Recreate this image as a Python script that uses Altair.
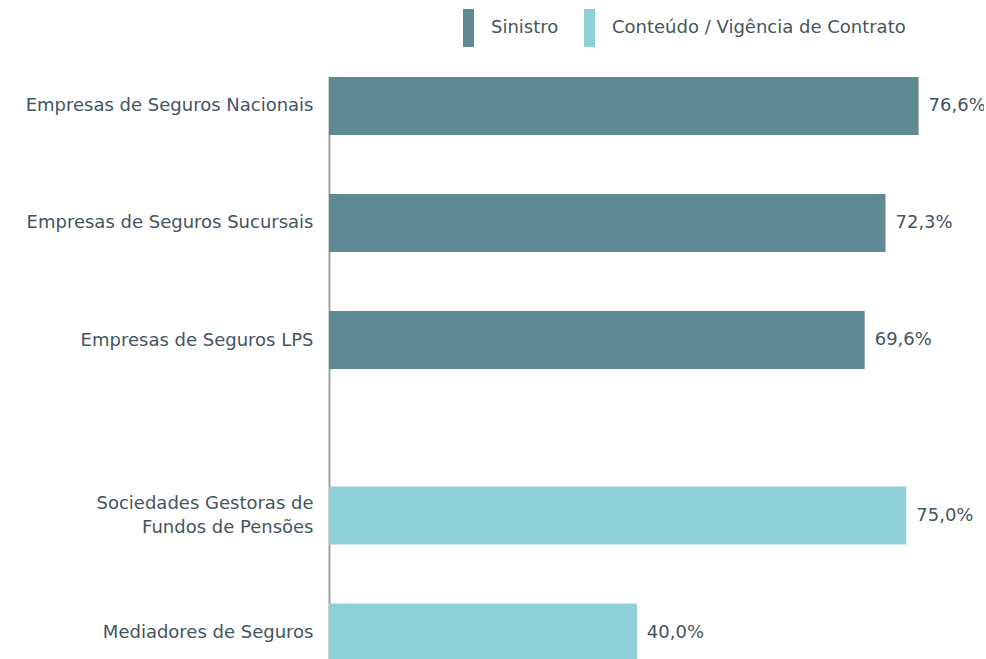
import altair as alt
import pandas as pd

categories = [
    "Empresas de Seguros Nacionais",
    "Empresas de Seguros Sucursais",
    "Empresas de Seguros LPS",
    "Sociedades Gestoras de|Fundos de Pensões",
    "Mediadores de Seguros",
]
values = [76.6, 72.3, 69.6, 75.0, 40.0]
groups = ["Sinistro", "Sinistro", "Sinistro",
          "Conteúdo / Vigência de Contrato", "Conteúdo / Vigência de Contrato"]
positions = [0, 1, 2, 3.5, 4.5]
value_labels = ["76,6%", "72,3%", "69,6%", "75,0%", "40,0%"]
group_order = ["Sinistro", "Conteúdo / Vigência de Contrato"]
group_colors = ["#5f8a93", "#8fcfd9"]

df = pd.DataFrame({
    "cat": categories, "value": values, "group": groups,
    "pos": positions, "lab": value_labels,
})

FONT = "DejaVu Sans"
TXT = "#44555e"
FS = 18

expr = "''"
for p, c in zip(positions, categories):
    expr = f"datum.value == {p} ? '{c}' : ({expr})"
label_expr = f"split({expr}, '|')"

multi = [p for p, c in zip(positions, categories) if "|" in c]
multi_test = " || ".join(f"datum.value == {p}" for p in multi)

yscale = alt.Scale(domain=[-0.256, 4.726], reverse=True, nice=False,
                   zero=False, padding=0)
xscale = alt.Scale(domain=[0, 85.1], nice=False, zero=True, padding=0)

base = alt.Chart(df)

bars = base.mark_bar(orient="horizontal", size=58, clip=True).encode(
    x=alt.X("value:Q", scale=xscale, axis=None),
    y=alt.Y("pos:Q", scale=yscale,
            axis=alt.Axis(values=positions, labelExpr=label_expr, title=None,
                          grid=False, ticks=False, domain=True,
                          domainColor="#a0a0a0", domainWidth=2,
                          labelFont=FONT, labelFontSize=FS, labelColor=TXT,
                          labelPadding=16, labelLineHeight=24, labelLimit=400,
                          labelOffset={"condition": {"test": multi_test, "value": -12},
                                       "value": 0},
                          labelBound=False, labelOverlap=False, labelFlush=False)),
    color=alt.Color("group:N",
                    scale=alt.Scale(domain=group_order, range=group_colors),
                    sort=group_order,
                    legend=alt.Legend(
                        title=None, orient="none", direction="horizontal",
                        legendX=120.5, legendY=-67,
                        symbolType="M-0.29,-1L0.29,-1L0.29,1L-0.29,1Z",
                        symbolSize=1444, symbolStrokeWidth=0, symbolOpacity=1,
                        labelFont=FONT, labelFontSize=FS, labelColor=TXT,
                        labelLimit=400, labelOffset=3.5, columnPadding=12)),
)

texts = base.mark_text(align="left", baseline="middle", dx=10, clip=True,
                       font=FONT, fontSize=FS, color=TXT).encode(
    x=alt.X("value:Q", scale=xscale),
    y=alt.Y("pos:Q", scale=yscale),
    text="lab:N",
)

chart = (bars + texts).properties(
    width=655, height=583,
    autosize=alt.AutoSizeParams(type="none"),
    padding={"left": 329, "top": 76, "right": 2, "bottom": 0},
).configure_view(stroke=None)

chart.save("out.html", embed_options={"renderer": "svg", "actions": False})
